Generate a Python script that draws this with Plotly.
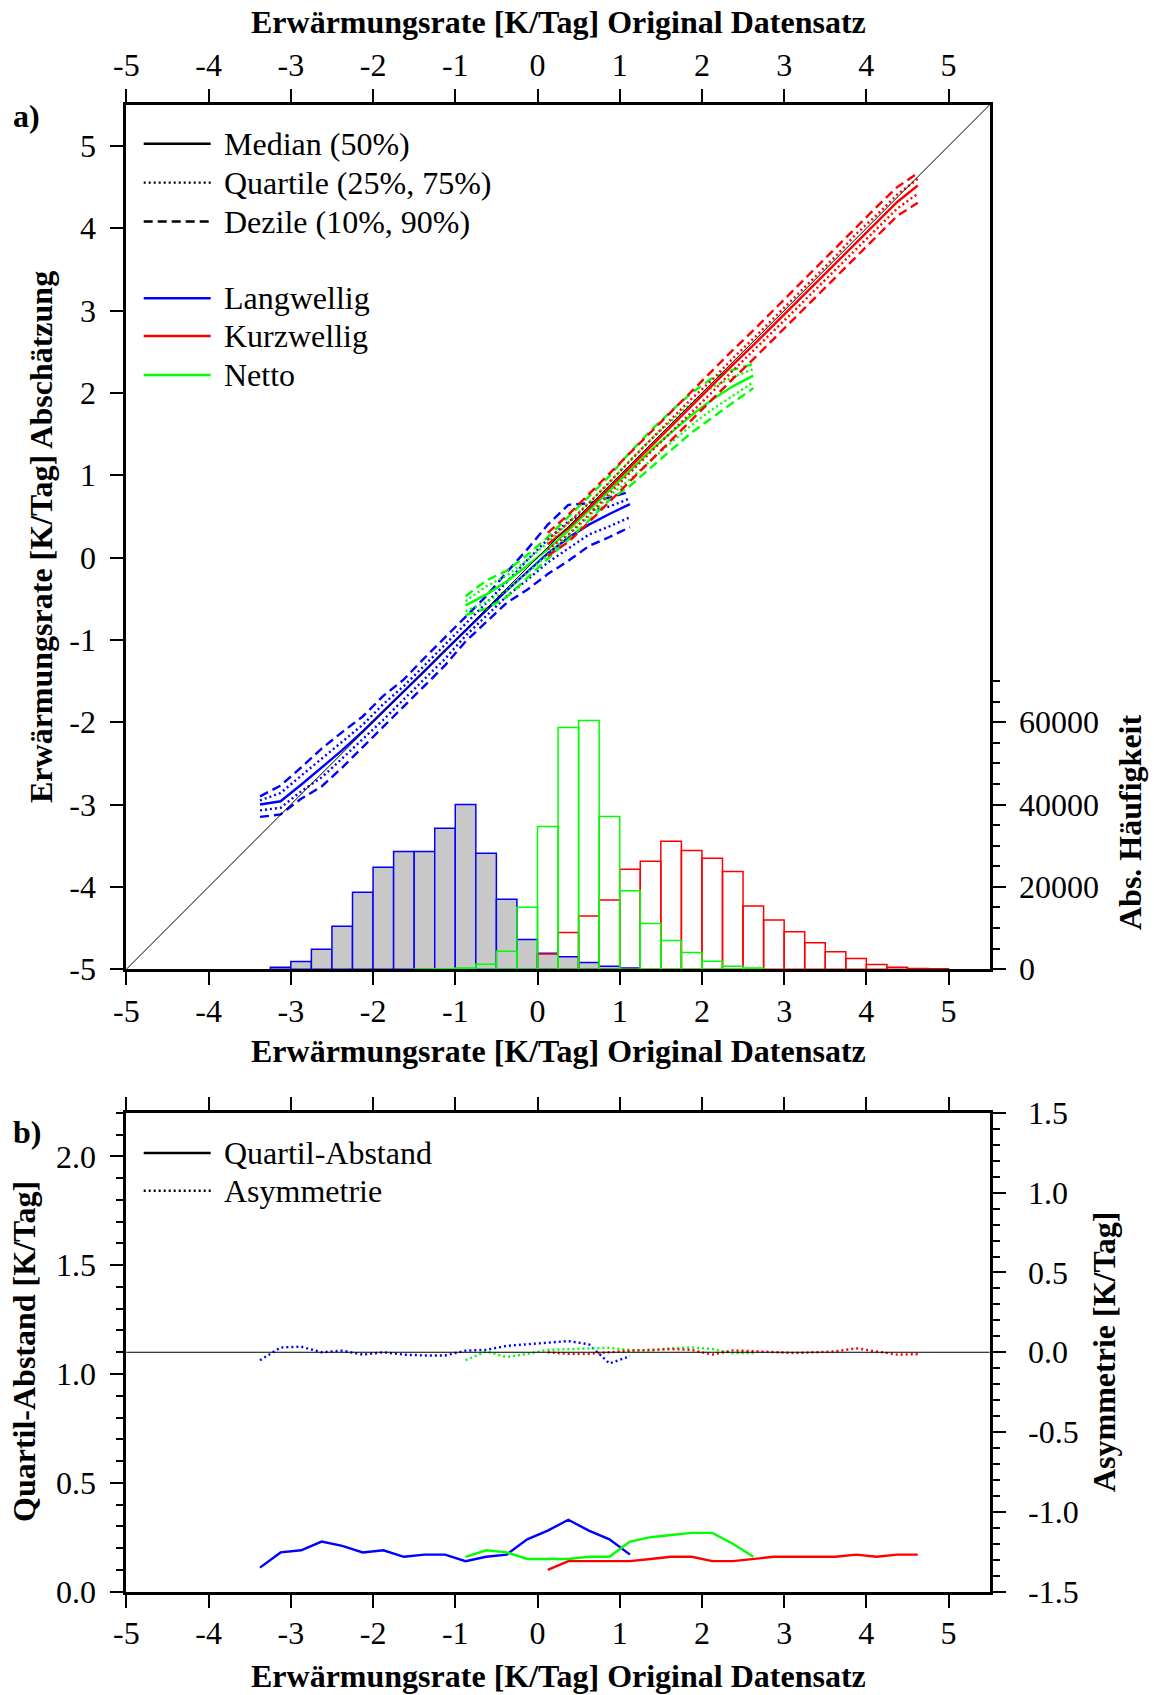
import plotly.graph_objects as go

W, H = 1154, 1695
FONT = "Liberation Serif"

# ---------------- data: panel a) lines ----------------
blue_x = [-3.375, -3.125, -2.875, -2.625, -2.375, -2.125, -1.875, -1.625, -1.375, -1.125,
          -0.875, -0.625, -0.375, -0.125, 0.125, 0.375, 0.625, 0.875, 1.125]
blue_med = [-3.00, -2.96, -2.76, -2.55, -2.34, -2.11, -1.87, -1.63, -1.38, -1.13,
            -0.88, -0.64, -0.40, -0.17, 0.05, 0.24, 0.40, 0.53, 0.65]
blue_q25 = [-3.07, -3.04, -2.84, -2.67, -2.44, -2.21, -1.97, -1.72, -1.48, -1.23,
            -0.95, -0.71, -0.47, -0.27, -0.06, 0.11, 0.28, 0.38, 0.49]
blue_q75 = [-2.95, -2.86, -2.65, -2.44, -2.23, -2.03, -1.78, -1.56, -1.31, -1.06,
            -0.80, -0.56, -0.30, -0.03, 0.22, 0.44, 0.57, 0.62, 0.72]
blue_d10 = [-3.15, -3.12, -2.93, -2.78, -2.55, -2.30, -2.06, -1.80, -1.56, -1.31,
            -1.02, -0.79, -0.55, -0.39, -0.20, -0.04, 0.14, 0.25, 0.37]
blue_d90 = [-2.90, -2.77, -2.55, -2.32, -2.12, -1.93, -1.68, -1.48, -1.22, -0.97,
            -0.73, -0.47, -0.18, 0.10, 0.40, 0.64, 0.66, 0.73, 0.80]

red_x = [0.125, 0.375, 0.625, 0.875, 1.125, 1.375, 1.625, 1.875, 2.125, 2.375,
         2.625, 2.875, 3.125, 3.375, 3.625, 3.875, 4.125, 4.375, 4.625]
red_med = [0.16, 0.36, 0.60, 0.85, 1.10, 1.35, 1.59, 1.84, 2.09, 2.34,
           2.58, 2.83, 3.08, 3.33, 3.58, 3.83, 4.08, 4.32, 4.52]
red_q25 = [0.10, 0.28, 0.52, 0.78, 1.03, 1.28, 1.52, 1.77, 2.01, 2.27,
           2.51, 2.75, 3.00, 3.25, 3.50, 3.75, 4.00, 4.24, 4.42]
red_q75 = [0.22, 0.42, 0.66, 0.92, 1.18, 1.43, 1.68, 1.93, 2.16, 2.42,
           2.66, 2.91, 3.16, 3.41, 3.66, 3.93, 4.16, 4.41, 4.60]
red_d10 = [0.02, 0.19, 0.43, 0.68, 0.93, 1.18, 1.42, 1.67, 1.92, 2.17,
           2.41, 2.66, 2.91, 3.16, 3.41, 3.66, 3.91, 4.15, 4.31]
red_d90 = [0.30, 0.52, 0.77, 1.02, 1.28, 1.53, 1.78, 2.03, 2.27, 2.52,
           2.76, 3.01, 3.26, 3.51, 3.76, 4.02, 4.26, 4.50, 4.67]

green_x = [-0.875, -0.625, -0.375, -0.125, 0.125, 0.375, 0.625, 0.875, 1.125, 1.375,
           1.625, 1.875, 2.125, 2.375, 2.625]
green_med = [-0.58, -0.45, -0.29, -0.10, 0.10, 0.33, 0.57, 0.82, 1.06, 1.30,
             1.52, 1.73, 1.92, 2.08, 2.21]
green_q25 = [-0.65, -0.54, -0.40, -0.18, 0.03, 0.27, 0.50, 0.75, 0.95, 1.18,
             1.40, 1.61, 1.80, 1.97, 2.13]
green_q75 = [-0.53, -0.35, -0.22, -0.03, 0.18, 0.42, 0.66, 0.91, 1.18, 1.43,
             1.66, 1.88, 2.07, 2.19, 2.29]
green_d10 = [-0.70, -0.62, -0.48, -0.25, -0.02, 0.22, 0.45, 0.70, 0.87, 1.09,
             1.31, 1.52, 1.70, 1.88, 2.06]
green_d90 = [-0.47, -0.28, -0.16, 0.03, 0.25, 0.49, 0.74, 0.99, 1.28, 1.54,
             1.78, 2.00, 2.18, 2.28, 2.35]

diag = [-5, 5.5]

# ---------------- data: panel a) histograms (bin width 0.25) ----------------
hist_blue_x = [-3.125, -2.875, -2.625, -2.375, -2.125, -1.875, -1.625, -1.375, -1.125,
               -0.875, -0.625, -0.375, -0.125, 0.125, 0.375, 0.625, 0.875, 1.125]
hist_blue_n = [500, 1860, 4860, 10450, 18700, 24780, 28580, 28580, 34250,
               40000, 28180, 17000, 7200, 3890, 3000, 1620, 730, 300]
hist_red_x = [0.125, 0.375, 0.625, 0.875, 1.125, 1.375, 1.625, 1.875, 2.125, 2.375,
              2.625, 2.875, 3.125, 3.375, 3.625, 3.875, 4.125, 4.375, 4.625, 4.875]
hist_red_n = [3700, 8900, 12950, 16840, 24290, 26230, 31090, 28830, 26960, 23720,
              15380, 11980, 9070, 6400, 4210, 2590, 1130, 490, 160, 80]
hist_green_x = [-1.375, -1.125, -0.875, -0.625, -0.375, -0.125, 0.125, 0.375, 0.625,
                0.875, 1.125, 1.375, 1.625, 1.875, 2.125, 2.375, 2.625]
hist_green_n = [50, 80, 300, 1210, 4370, 15060, 34660, 58700, 60400,
                37090, 19030, 11090, 6960, 4050, 1940, 730, 300]

# ---------------- data: panel b) ----------------
qa_blue = [0.11, 0.18, 0.19, 0.23, 0.21, 0.18, 0.19, 0.16, 0.17, 0.17,
           0.14, 0.16, 0.17, 0.24, 0.28, 0.33, 0.28, 0.24, 0.17]
qa_red = [0.10, 0.14, 0.14, 0.14, 0.14, 0.15, 0.16, 0.16, 0.14, 0.14,
          0.15, 0.16, 0.16, 0.16, 0.16, 0.17, 0.16, 0.17, 0.17]
qa_green = [0.16, 0.19, 0.18, 0.15, 0.15, 0.15, 0.16, 0.16, 0.23, 0.25,
            0.26, 0.27, 0.27, 0.22, 0.16]
asym_blue = [-0.05, 0.03, 0.035, 0.0, 0.01, -0.015, 0.0, -0.015, -0.02, -0.02,
             0.01, 0.015, 0.04, 0.05, 0.06, 0.07, 0.05, -0.07, -0.025]
asym_red = [0.0, -0.01, -0.01, 0.0, 0.01, 0.015, 0.02, 0.015, -0.015, 0.012,
            0.005, 0.0, -0.005, 0.0, 0.005, 0.025, 0.005, -0.015, -0.012]
asym_green = [-0.05, 0.005, -0.03, -0.01, 0.015, 0.02, 0.025, 0.028, 0.014, 0.01,
              0.025, 0.03, 0.02, -0.005, -0.005]

xticks = [-5, -4, -3, -2, -1, 0, 1, 2, 3, 4, 5]
yticks_a = [-5, -4, -3, -2, -1, 0, 1, 2, 3, 4, 5]
hist_ticks = [0, 20000, 40000, 60000]
hist_minor = [5000, 10000, 15000, 25000, 30000, 35000, 45000, 50000, 55000, 65000, 70000]
qa_ticks = [0.0, 0.5, 1.0, 1.5, 2.0]
asym_ticks = [-1.5, -1.0, -0.5, 0.0, 0.5, 1.0, 1.5]

BLUE, RED, GREEN = "#0000ff", "#ff0000", "#00ff00"
DOT = "2px,3px"
DASH = "9px,5px"

# ---------------- geometry (pixels -> paper) ----------------
def px(x):
    return x / W

def py(y):
    return 1 - y / H

L, R = 126.4, 989.7
A_TOP, A_BOT = 104.8, 969.2
B_TOP, B_BOT = 1112.9, 1591.6

fig = go.Figure()

# diagonal (on top x-axis so that axis is drawn)
fig.add_trace(go.Scatter(x=diag, y=diag, mode="lines", xaxis="x2", yaxis="y",
                         line=dict(color="black", width=1), showlegend=False, hoverinfo="skip"))

def add_band(xs, d10, q25, med, q75, d90, color):
    for ys, dash in ((d10, DASH), (q25, DOT), (med, "solid"), (q75, DOT), (d90, DASH)):
        fig.add_trace(go.Scatter(x=xs, y=ys, mode="lines", xaxis="x", yaxis="y",
                                 line=dict(color=color, width=2.4, dash=dash),
                                 showlegend=False))

add_band(blue_x, blue_d10, blue_q25, blue_med, blue_q75, blue_d90, BLUE)
add_band(green_x, green_d10, green_q25, green_med, green_q75, green_d90, GREEN)
add_band(red_x, red_d10, red_q25, red_med, red_q75, red_d90, RED)

# histograms
fig.add_trace(go.Bar(x=hist_blue_x, y=hist_blue_n, width=0.25, xaxis="x", yaxis="y2",
                     marker=dict(color="#c8c8c8", line=dict(color=BLUE, width=1.5)),
                     showlegend=False))
fig.add_trace(go.Bar(x=hist_red_x, y=hist_red_n, width=0.25, xaxis="x", yaxis="y2",
                     marker=dict(color="rgba(0,0,0,0)", line=dict(color=RED, width=1.5)),
                     showlegend=False))
fig.add_trace(go.Bar(x=hist_green_x, y=hist_green_n, width=0.25, xaxis="x", yaxis="y2",
                     marker=dict(color="rgba(0,0,0,0)", line=dict(color=GREEN, width=1.5)),
                     showlegend=False))

# panel b
for xs, qa, col in ((blue_x, qa_blue, BLUE), (green_x, qa_green, GREEN), (red_x, qa_red, RED)):
    fig.add_trace(go.Scatter(x=xs, y=qa, mode="lines", xaxis="x3", yaxis="y3",
                             line=dict(color=col, width=2.4), showlegend=False))
for xs, asy, col in ((blue_x, asym_blue, BLUE), (green_x, asym_green, GREEN), (red_x, asym_red, RED)):
    fig.add_trace(go.Scatter(x=xs, y=asy, mode="lines", xaxis="x3", yaxis="y4",
                             line=dict(color=col, width=2.4, dash=DOT), showlegend=False))

FS = 32
tickfont = dict(family=FONT, size=FS, color="black")
ax_common = dict(showgrid=False, zeroline=False, showline=True, linecolor="black",
                 linewidth=3, ticks="outside", ticklen=13, tickwidth=1.5,
                 tickcolor="black", tickfont=tickfont, automargin=False)

def lbl(v):
    return str(v).replace("\u2212", "-")

xdom = [px(L), px(R)]
fig.update_layout(
    width=W, height=H, margin=dict(l=0, r=0, t=0, b=0, autoexpand=False),
    paper_bgcolor="white", plot_bgcolor="white",
    barmode="overlay", showlegend=False,
    font=dict(family=FONT, color="black"),
    xaxis=dict(domain=xdom, range=[-5, 5.5], anchor="y", tickmode="array",
               tickvals=xticks, ticktext=[lbl(v) for v in xticks],
               ticklabelstandoff=-2, **ax_common),
    xaxis2=dict(overlaying="x", side="top", range=[-5, 5.5], anchor="y", tickmode="array",
                tickvals=xticks, ticktext=[lbl(v) for v in xticks],
                ticklabelstandoff=0, **ax_common),
    yaxis=dict(domain=[py(A_BOT), py(A_TOP)], range=[-5, 5.5], anchor="x", tickmode="array",
               tickvals=yticks_a, ticktext=[lbl(v) for v in yticks_a],
               ticklabelstandoff=8, **ax_common),
    yaxis2=dict(overlaying="y", side="right", range=[0, 210000], anchor="x", tickmode="array",
                tickvals=hist_ticks, ticktext=[str(v) for v in hist_ticks],
                ticklabelstandoff=7,
                minor=dict(tickmode="array", tickvals=hist_minor, ticks="outside",
                           ticklen=7, tickwidth=1.5, tickcolor="black"),
                **ax_common),
    xaxis3=dict(domain=xdom, range=[-5, 5.5], anchor="y3", tickmode="array",
                tickvals=xticks, ticktext=[lbl(v) for v in xticks],
                mirror="ticks", ticklabelstandoff=-2, **ax_common),
    yaxis3=dict(domain=[py(B_BOT), py(B_TOP)], range=[0, 2.2], anchor="x3", tickmode="array",
                tickvals=qa_ticks, ticktext=["%.1f" % v for v in qa_ticks], ticklabelstandoff=8,
                minor=dict(dtick=0.1, tick0=0, ticks="outside", ticklen=7, tickwidth=1.5,
                           tickcolor="black"),
                **ax_common),
    yaxis4=dict(overlaying="y3", side="right", range=[-1.5, 1.5], anchor="x3", tickmode="array",
                tickvals=asym_ticks, ticktext=["%.1f" % v for v in asym_ticks], ticklabelstandoff=16,
                minor=dict(dtick=0.1, tick0=0, ticks="outside", ticklen=7, tickwidth=1.5,
                           tickcolor="black"),
                **ax_common),
)

# zero line of asymmetry
fig.add_shape(type="line", xref="x3 domain", yref="y4", x0=0, x1=1, y0=0, y1=0,
              line=dict(color="black", width=1))

title_font = dict(family=FONT, size=FS, color="black")
text_font = dict(family=FONT, size=FS, color="black")

def ann(text, x, y, xanchor="center", yanchor="middle", angle=0, font=title_font):
    fig.add_annotation(text=text, x=px(x), y=py(y), xref="paper", yref="paper",
                       xanchor=xanchor, yanchor=yanchor, textangle=angle,
                       showarrow=False, font=font)

XT = "<b>Erwärmungsrate [K/Tag] Original Datensatz</b>"
ann(XT, 558, 22)
ann(XT, 558, 1051)
ann(XT, 558, 1676)
ann("<b>Erwärmungsrate [K/Tag] Abschätzung</b>", 41, 537, angle=-90)
ann("<b>Abs. Häufigkeit</b>", 1130, 823, angle=-90)
ann("<b>Quartil-Abstand [K/Tag]</b>", 24, 1352, angle=-90)
ann("<b>Asymmetrie [K/Tag]</b>", 1104, 1352, angle=-90)
ann("<b>a)</b>", 11, 116, xanchor="left")
ann("<b>b)</b>", 11, 1132, xanchor="left")

# manual legends
def legend_item(y, text, color, dash):
    fig.add_shape(type="line", xref="paper", yref="paper", x0=px(143.7), x1=px(210.7),
                  y0=py(y), y1=py(y), line=dict(color=color, width=2.4, dash=dash))
    ann(text, 221.5, y, xanchor="left", font=text_font)

legend_item(143.7, "Median (50%)", "black", "solid")
legend_item(182.6, "Quartile (25%, 75%)", "black", DOT)
legend_item(221.5, "Dezile (10%, 90%)", "black", DASH)
legend_item(298.2, "Langwellig", BLUE, "solid")
legend_item(336.0, "Kurzwellig", RED, "solid")
legend_item(375.0, "Netto", GREEN, "solid")
legend_item(1153.0, "Quartil-Abstand", "black", "solid")
legend_item(1190.7, "Asymmetrie", "black", DOT)

fig.write_html("out.html", config={"displayModeBar": False},
               post_script="document.body.style.margin='0';document.body.style.padding='0';"
                           "document.body.style.overflow='hidden';")
